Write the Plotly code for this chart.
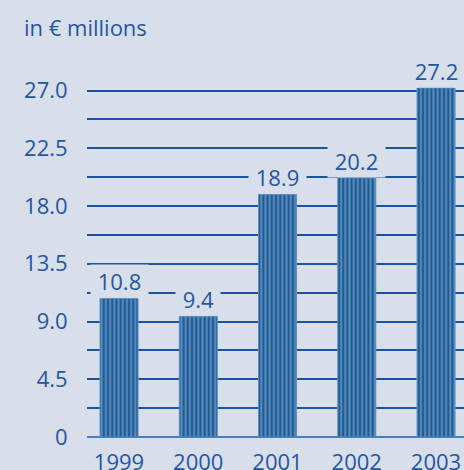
import plotly.graph_objects as go

years = [1999, 2000, 2001, 2002, 2003]
values = [10.8, 9.4, 18.9, 20.2, 27.2]
value_labels = ["10.8", "9.4", "18.9", "20.2", "27.2"]
y_tickvals = [0, 2.25, 4.5, 6.75, 9.0, 11.25, 13.5, 15.75, 18.0, 20.25, 22.5, 24.75, 27.0, 29.25]
y_ticktext = ["0", "", "4.5", "", "9.0", "", "13.5", "", "18.0", "", "22.5", "", "27.0", ""]
x_ticktext = ["1999", "2000", "2001", "2002", "2003"]

BG = "#d8dfea"
TXT = "#1f56a6"
GRID = "#1a52a4"
FONT = "Open Sans"
FS = 22

fig = go.Figure()
fig.add_trace(go.Bar(
    x=years, y=values, width=0.48,
    marker=dict(
        color="#285b8f",
        line=dict(color="#5d90c4", width=1),
        pattern=dict(shape="|", size=4.2, solidity=0.45,
                     fgcolor="#5590c6", bgcolor="#265a8e", fillmode="replace"),
    ),
    hoverinfo="skip",
))

for x, v, t in zip(years, values, value_labels):
    fig.add_annotation(x=x, y=v, text="\u00a0" + t + "\u00a0", showarrow=False, yanchor="bottom",
                       xanchor="center", yshift=0, bgcolor=BG, borderpad=1,
                       font=dict(family=FONT, size=FS, color=TXT))

fig.update_layout(
    width=464, height=470,
    margin=dict(l=87, r=0, t=61, b=33, autoexpand=False),
    paper_bgcolor=BG, plot_bgcolor=BG,
    showlegend=False,
    font=dict(family=FONT, size=FS, color=TXT),
    title=dict(text="in € millions", x=24/464, xanchor="left", xref="container",
               y=1 - 28/470, yanchor="middle", yref="container",
               font=dict(family=FONT, size=FS, color=TXT), automargin=False),
    xaxis=dict(range=[1998.596, 2003.353], tickvals=years, ticktext=x_ticktext,
               showgrid=False, zeroline=False, showline=False, automargin=False,
               ticks="outside", ticklen=6, tickcolor="rgba(0,0,0,0)",
               tickfont=dict(family=FONT, size=FS, color=TXT), fixedrange=True),
    yaxis=dict(range=[0, 29.3], tickvals=y_tickvals, ticktext=y_ticktext,
               showgrid=True, gridcolor=GRID, gridwidth=1.5, automargin=False,
               zeroline=True, zerolinecolor="#4a7fbf", zerolinewidth=2,
               showline=False, ticks="outside", ticklen=14, tickcolor="rgba(0,0,0,0)",
               tickfont=dict(family=FONT, size=FS, color=TXT), fixedrange=True),
)

fig.write_html("out.html", config={"displayModeBar": False},
               post_script="document.body.style.margin='0';document.body.style.overflow='hidden';")
